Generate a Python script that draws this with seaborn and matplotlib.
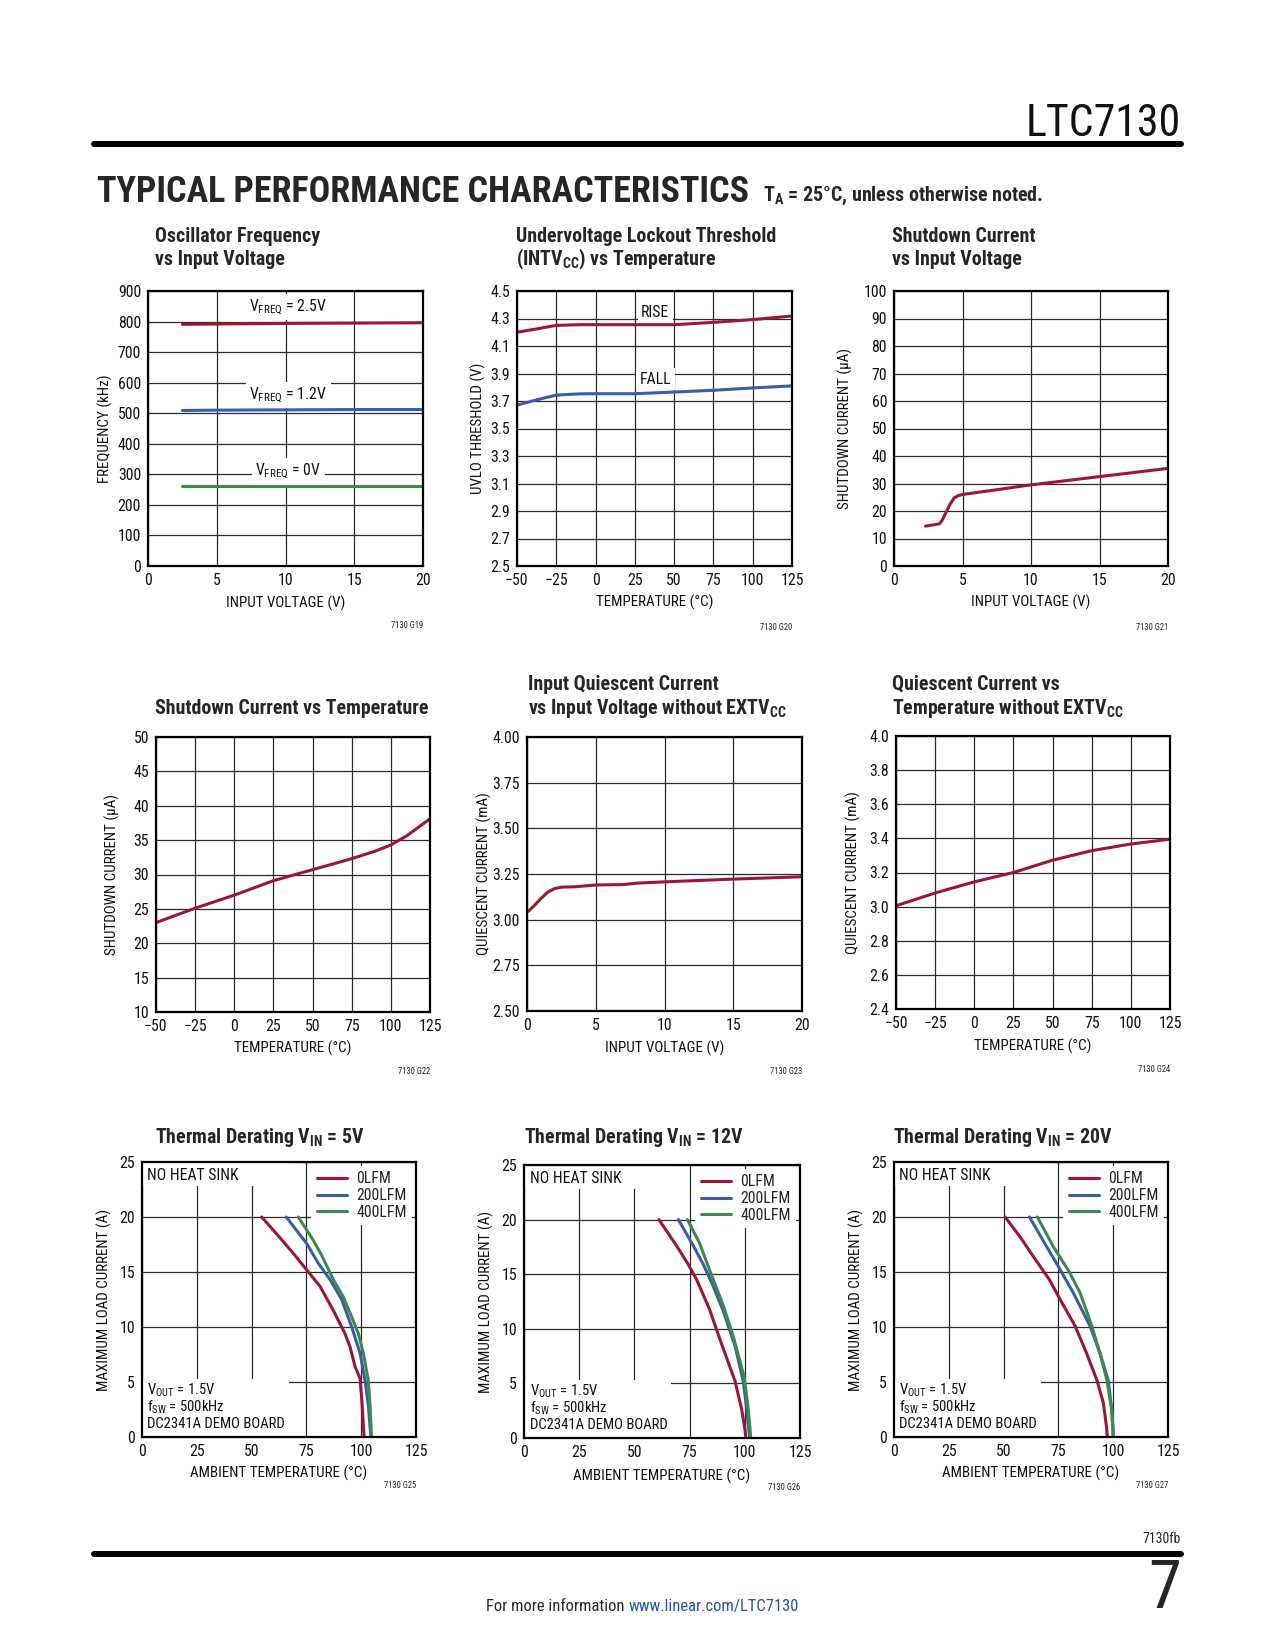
import os
import numpy as np
import pandas as pd
import matplotlib
matplotlib.use('Agg')
import matplotlib.pyplot as plt
import seaborn as sns
from matplotlib import font_manager
from matplotlib.patches import Rectangle

W, H = 1275, 1650

sns.set_theme(style='white')


def pick_narrow_font():
    # the datasheet uses a condensed face; take the narrowest family that is installed
    found = {}
    for f in font_manager.fontManager.ttflist:
        base = os.path.basename(f.fname).lower()
        if 'narrow' in base or 'condensed' in base or f.stretch == 'condensed':
            if 'semi' in base or 'extra' in base or 'ultra' in base:
                continue
            found.setdefault(f.name, f.stretch)
    for name in ['Liberation Sans Narrow', 'Roboto Condensed', 'DejaVu Sans', 'Noto Sans',
                 'Open Sans', 'Roboto']:
        if name in found:
            return name, found[name]
    if found:
        name = sorted(found)[0]
        return name, found[name]
    return 'DejaVu Sans', 'normal'


NARROW, STRETCH = pick_narrow_font()
plt.rcParams['font.family'] = [NARROW, 'DejaVu Sans']
plt.rcParams['font.stretch'] = STRETCH
plt.rcParams['mathtext.default'] = 'regular'

RED = '#9c1737'
BLUE = '#3d5ca8'
GREEN = '#3a8c4c'
GRID = '#2a2a2a'
LW = 2.2

# ---- data
osc_vin = [2.5, 5, 10, 15, 20]
osc_25v = [791, 792, 794, 795, 796]
osc_12v = [509, 510, 511, 512, 512]
osc_0v = [262, 262, 262, 262, 262]

uvlo_temp = [-50, -37, -25, -10, 0, 25, 50, 75, 100, 125]
uvlo_rise = [4.20, 4.225, 4.25, 4.255, 4.255, 4.255, 4.255, 4.272, 4.292, 4.318]
uvlo_fall = [3.67, 3.71, 3.743, 3.752, 3.753, 3.753, 3.765, 3.778, 3.795, 3.81]

sdv_vin = [2.3, 3.3, 3.5, 3.8, 4.1, 4.4, 4.7, 5, 10, 15, 20]
sdv_ua = [14.5, 15.3, 16.5, 19.5, 22.5, 24.8, 25.6, 26.0, 29.5, 32.5, 35.5]

sdt_temp = [-50, -25, 0, 25, 50, 75, 90, 100, 110, 125]
sdt_ua = [23.0, 25.1, 27.0, 29.1, 30.7, 32.3, 33.4, 34.3, 35.6, 38.1]

iq_vin = [0.1, 0.5, 1.0, 1.5, 2.0, 2.5, 3.5, 5, 7, 8, 10, 15, 20]
iq_ma = [3.046, 3.075, 3.115, 3.15, 3.17, 3.178, 3.18, 3.19, 3.192, 3.2, 3.207, 3.222, 3.235]

qt_temp = [-50, -25, 0, 25, 50, 75, 100, 125]
qt_ma = [3.005, 3.08, 3.145, 3.20, 3.272, 3.328, 3.367, 3.395]

td5_t = {'0LFM': [54.6, 63, 69, 75.1, 81.2, 87.3, 92.6, 94.9, 97.2, 99.5, 100.4, 101, 101.3],
         '200LFM': [65.8, 75.1, 80.4, 85.8, 91.1, 95.7, 99.5, 101.7, 103.2, 104, 104.4],
         '400LFM': [71.3, 78.1, 82, 87.3, 91.8, 95.7, 98.7, 101, 103.2, 104, 104.5, 104.7]}
td5_a = {'0LFM': [20, 18.1, 16.7, 15.2, 13.7, 11.5, 9.4, 8.2, 6.4, 5.3, 3.0, 1.0, 0],
         '200LFM': [20, 17.6, 15.8, 14.3, 12.5, 10.0, 7.6, 5.2, 3.0, 1.0, 0],
         '400LFM': [20, 17.9, 16.5, 14.3, 12.75, 10.9, 9.4, 7.6, 5.2, 3.0, 1.0, 0]}

td12_t = {'0LFM': [61.1, 69.1, 74.4, 78.2, 84, 88.8, 95.6, 98.6, 100.1, 100.5],
          '200LFM': [69.9, 76.7, 81.2, 85.7, 90.3, 95.6, 99.3, 100.9, 101.8, 102.2],
          '400LFM': [74, 79.4, 84.2, 90.3, 94.8, 99.7, 101.6, 102.4, 102.7]}
td12_a = {'0LFM': [20, 17.6, 15.9, 14.5, 11.8, 9.0, 5.2, 2.6, 0.75, 0],
          '200LFM': [20, 17.6, 15.9, 13.9, 11.6, 8.4, 5.2, 2.6, 0.75, 0],
          '400LFM': [20, 17.9, 15.3, 12.1, 9.3, 5.6, 2.6, 0.75, 0]}

td20_t = {'0LFM': [50.7, 57.5, 63.6, 70.9, 75.8, 82.6, 87.9, 92.5, 95.5, 96.9, 97.3],
          '200LFM': [61.8, 68.2, 75, 81.8, 89.4, 94, 97.8, 99.3, 99.9, 100],
          '400LFM': [65.4, 72.7, 80, 84.9, 90.2, 94, 97.2, 99.3, 99.9, 100]}
td20_a = {'0LFM': [20, 18.2, 16.4, 14.3, 12.5, 10.1, 7.6, 5.2, 3.1, 1.0, 0],
          '200LFM': [20, 17.8, 15.5, 13.1, 10.1, 7.6, 5.1, 2.5, 0.7, 0],
          '400LFM': [20, 17.3, 15.0, 13.1, 10.1, 7.6, 5.1, 2.5, 0.7, 0]}
airflow_colors = {'0LFM': RED, '200LFM': BLUE, '400LFM': GREEN}

vin_ticks = [0, 5, 10, 15, 20]
temp_ticks = [-50, -25, 0, 25, 50, 75, 100, 125]
temp_labels = ['\u221250', '\u221225', '0', '25', '50', '75', '100', '125']
amb_ticks = [0, 25, 50, 75, 100, 125]
board_notes = ['V$_{OUT}$ = 1.5V', 'f$_{SW}$ = 500kHz', 'DC2341A DEMO BOARD']

fig = plt.figure(figsize=(W / 100, H / 100), dpi=100)
renderer = fig.canvas.get_renderer()


def size_for(s, width, weight='normal'):
    # font size that makes s about `width` pixels wide
    t = fig.text(0, 0, s, fontsize=10, fontweight=weight)
    w = t.get_window_extent(renderer).width
    t.remove()
    return 10 * width / w


TICK = size_for('900', 21.5) * 1.08
LABEL = size_for('INPUT VOLTAGE (V)', 117) * 1.02
TITLE = size_for('Shutdown Current vs Temperature', 271, 'bold')
NOTE = size_for('DC2341A DEMO BOARD', 148)
TINY = size_for('7130 G22', 32)


def px_axes(l, r, t, b):
    return fig.add_axes([l / W, 1 - b / H, (r - l) / W, (b - t) / H])


def frame(ax, xlim, ylim, xticks, xlabels, yticks, ylabels, xlabel, ylabel, xlab_y, ylab_x):
    ax.set_xlim(xlim)
    ax.set_ylim(ylim)
    ax.set_xticks(xticks, xlabels)
    ax.set_yticks(yticks, ylabels)
    ax.grid(True, color=GRID, linewidth=0.9)
    ax.set_axisbelow(True)
    ax.tick_params(length=0, pad=5, labelsize=TICK, labelcolor='#111111')
    for s in ax.spines.values():
        s.set_visible(True)
        s.set_color('black')
        s.set_linewidth(1.6)
    ax.set_xlabel(xlabel, fontsize=LABEL, color='#111111')
    ax.set_ylabel(ylabel, fontsize=LABEL, color='#111111')
    ax.xaxis.set_label_coords(0.5, xlab_y)
    ax.yaxis.set_label_coords(ylab_x, 0.5)


def curve(ax, x, y, color, label=None):
    sns.lineplot(x=x, y=y, ax=ax, color=color, linewidth=LW, estimator=None,
                 sort=False, label=label, legend=False)


def boxed(ax, x, y, s, **kw):
    ax.text(x, y, s, fontsize=NOTE, color='#111111', zorder=3,
            bbox=dict(fc='white', ec='none', pad=2.5), **kw)


def title(x, y, s):
    fig.text(x / W, 1 - y / H, s, fontsize=TITLE, fontweight='bold', va='baseline')


def blank_out(ax, x1, y0, y1):
    # white panel behind the notes so the grid stops at their edge
    inv = ax.transAxes.inverted()
    fx, fy0 = inv.transform((x1, y0))
    _, fy1 = inv.transform((x1, y1))
    ax.add_patch(Rectangle((0, fy0), fx, fy1 - fy0, transform=ax.transAxes,
                           fc='white', ec='none', zorder=1.5))


# ---- page header
fig.text(1181 / W, 1 - 136 / H, 'LTC7130', fontsize=size_for('LTC7130', 155), ha='right',
         va='baseline', color='#111111')
fig.add_artist(plt.Line2D([94 / W, 1181 / W], [1 - 144 / H] * 2, lw=4.3, color='black'))
fig.text(97 / W, 1 - 202 / H, 'TYPICAL PERFORMANCE CHARACTERISTICS',
         fontsize=size_for('TYPICAL PERFORMANCE CHARACTERISTICS', 650, 'bold'),
         fontweight='bold', va='baseline')
sub = 'T$_A$ = 25\u00b0C, unless otherwise noted.'
fig.text(763 / W, 1 - 201 / H, sub, fontsize=size_for(sub, 282, 'bold'),
         fontweight='bold', va='baseline')

# ---- row 1
ax = px_axes(148, 423, 291, 566)
curve(ax, osc_vin, osc_25v, RED)
curve(ax, osc_vin, osc_12v, BLUE)
curve(ax, osc_vin, osc_0v, GREEN)
frame(ax, (0, 20), (0, 900), vin_ticks, [str(v) for v in vin_ticks],
      range(0, 901, 100), [str(v) for v in range(0, 901, 100)],
      'INPUT VOLTAGE (V)', 'FREQUENCY (kHz)', -0.109, -0.126)
boxed(ax, 10.2, 848, 'V$_{FREQ}$ = 2.5V', ha='center', va='center')
boxed(ax, 10.2, 560, 'V$_{FREQ}$ = 1.2V', ha='center', va='center')
boxed(ax, 10.2, 310, 'V$_{FREQ}$ = 0V', ha='center', va='center')
title(155, 242, 'Oscillator Frequency')
title(155, 265, 'vs Input Voltage')

ax = px_axes(517, 792, 291, 566)
curve(ax, uvlo_temp, uvlo_rise, RED)
curve(ax, uvlo_temp, uvlo_fall, BLUE)
uv_ticks = [2.5, 2.7, 2.9, 3.1, 3.3, 3.5, 3.7, 3.9, 4.1, 4.3, 4.5]
frame(ax, (-50, 125), (2.5, 4.5), temp_ticks, temp_labels,
      uv_ticks, [f'{v:.1f}' for v in uv_ticks],
      'TEMPERATURE (\u00b0C)', 'UVLO THRESHOLD (V)', -0.105, -0.111)
boxed(ax, 38, 4.345, 'RISE', ha='center', va='center')
boxed(ax, 38, 3.857, 'FALL', ha='center', va='center')
title(516, 242, 'Undervoltage Lockout Threshold')
title(516, 265, '(INTV$_{CC}$) vs Temperature')

ax = px_axes(894, 1168, 291, 566)
curve(ax, sdv_vin, sdv_ua, RED)
frame(ax, (0, 20), (0, 100), vin_ticks, [str(v) for v in vin_ticks],
      range(0, 101, 10), [str(v) for v in range(0, 101, 10)],
      'INPUT VOLTAGE (V)', 'SHUTDOWN CURRENT (\u03bcA)', -0.105, -0.148)
title(892, 242, 'Shutdown Current')
title(892, 265, 'vs Input Voltage')

# ---- row 2
ax = px_axes(156, 430, 737, 1012)
curve(ax, sdt_temp, sdt_ua, RED)
frame(ax, (-50, 125), (10, 50), temp_ticks, temp_labels,
      range(10, 51, 5), [str(v) for v in range(10, 51, 5)],
      'TEMPERATURE (\u00b0C)', 'SHUTDOWN CURRENT (\u03bcA)', -0.105, -0.132)
title(155, 714, 'Shutdown Current vs Temperature')

ax = px_axes(527, 802, 737, 1011)
curve(ax, iq_vin, iq_ma, RED)
iq_ticks = [2.5, 2.75, 3.0, 3.25, 3.5, 3.75, 4.0]
frame(ax, (0, 20), (2.5, 4.0), vin_ticks, [str(v) for v in vin_ticks],
      iq_ticks, [f'{v:.2f}' for v in iq_ticks],
      'INPUT VOLTAGE (V)', 'QUIESCENT CURRENT (mA)', -0.109, -0.126)
title(528, 690, 'Input Quiescent Current')
title(528, 714, 'vs Input Voltage without EXTV$_{CC}$')

ax = px_axes(896, 1170, 736, 1009)
curve(ax, qt_temp, qt_ma, RED)
qt_ticks = [2.4, 2.6, 2.8, 3.0, 3.2, 3.4, 3.6, 3.8, 4.0]
frame(ax, (-50, 125), (2.4, 4.0), temp_ticks, temp_labels,
      qt_ticks, [f'{v:.1f}' for v in qt_ticks],
      'TEMPERATURE (\u00b0C)', 'QUIESCENT CURRENT (mA)', -0.110, -0.128)
title(892, 690, 'Quiescent Current vs')
title(892, 714, 'Temperature without EXTV$_{CC}$')

# ---- row 3: thermal derating
derating = [
    ((142, 416, 1162, 1437), td5_t, td5_a, 'Thermal Derating V$_{IN}$ = 5V', 155, -0.108, -0.104),
    ((524, 800, 1165, 1438), td12_t, td12_a, 'Thermal Derating V$_{IN}$ = 12V', 524, -0.107, -0.112),
    ((894, 1168, 1162, 1437), td20_t, td20_a, 'Thermal Derating V$_{IN}$ = 20V', 893, -0.109, -0.104),
]
for (l, r, t, b), temps, amps, name, tx, ylx, xly in derating:
    ax = px_axes(l, r, t, b)
    for key in ['0LFM', '200LFM', '400LFM']:
        curve(ax, temps[key], amps[key], airflow_colors[key], label=key)
    frame(ax, (0, 125), (0, 25), amb_ticks, [str(v) for v in amb_ticks],
          range(0, 26, 5), [str(v) for v in range(0, 26, 5)],
          'AMBIENT TEMPERATURE (\u00b0C)', 'MAXIMUM LOAD CURRENT (A)', xly, ylx)
    leg = ax.legend(loc='upper right', fontsize=NOTE, frameon=True, fancybox=False,
                    handlelength=1.9, handletextpad=0.6, labelspacing=0.1,
                    borderpad=0.35, borderaxespad=0.25, edgecolor='none', framealpha=1)
    leg.get_frame().set_facecolor('white')
    heat = ax.text(0.02, 0.978, 'NO HEAT SINK', fontsize=NOTE, color='#111111', zorder=4,
                   transform=ax.transAxes, ha='left', va='top')
    notes = [ax.text(0.02, yf, note, fontsize=NOTE * 0.94, color='#111111', zorder=4,
                     transform=ax.transAxes, ha='left', va='center')
             for yf, note in zip([0.170, 0.108, 0.046], board_notes)]
    ext = [n.get_window_extent(renderer) for n in notes]
    right = max(e.x1 for e in ext) + 4
    axbox = ax.get_window_extent(renderer)
    blank_out(ax, right, axbox.y0, max(e.y1 for e in ext) + 3)
    blank_out(ax, right, heat.get_window_extent(renderer).y0 - 3, axbox.y1)
    title(tx, 1143, name)

# ---- graph ids
for x, y, s in [(423, 625, '7130 G19'), (792, 627, '7130 G20'), (1168, 627, '7130 G21'),
                (430, 1072, '7130 G22'), (802, 1072, '7130 G23'), (1170, 1069, '7130 G24'),
                (416, 1485, '7130 G25'), (800, 1488, '7130 G26'), (1168, 1486, '7130 G27')]:
    fig.text(x / W, 1 - y / H, s, fontsize=TINY, ha='right', va='center', color='#222222')

# ---- page footer
fig.add_artist(plt.Line2D([94 / W, 1181 / W], [1 - 1554 / H] * 2, lw=4.3, color='black'))
fig.text(1181 / W, 1 - 1543 / H, '7130fb', fontsize=size_for('7130fb', 38), ha='right',
         va='baseline')
fig.text(1181 / W, 1 - 1608 / H, '7', fontsize=48, ha='right', va='baseline')
foot = size_for('For more information', 137)
fig.text(624 / W, 1 - 1611 / H, 'For more information', fontsize=foot, ha='right',
         va='baseline')
fig.text(629 / W, 1 - 1611 / H, 'www.linear.com/LTC7130', fontsize=foot, ha='left',
         va='baseline', color='#2255aa')

fig.savefig('out.png', dpi=100, facecolor='white')
